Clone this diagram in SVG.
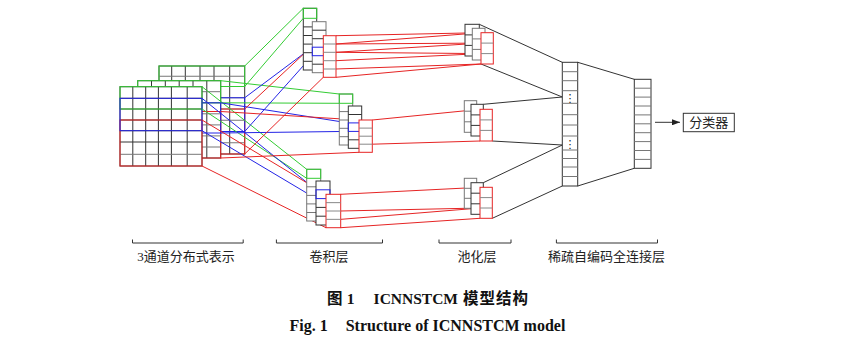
<svg xmlns="http://www.w3.org/2000/svg" width="848" height="342" viewBox="0 0 848 342">
<style>
.g{stroke:#33cc33;fill:none;stroke-width:1}
.b{stroke:#2424e6;fill:none;stroke-width:1}
.r{stroke:#e62424;fill:none;stroke-width:1}
.k{stroke:#333;fill:none;stroke-width:1}
.gr{stroke:#777;fill:none;stroke-width:1}
.box{fill:#fff;stroke:#333;stroke-width:1}
.boxg{fill:#fff;stroke:#777;stroke-width:1}
.boxr{fill:#fff;stroke:#e62424;stroke-width:1}
.dv{stroke:#888;fill:none;stroke-width:1}
.lbl{font-family:"Liberation Serif","Noto Sans CJK SC",serif;font-size:13px;fill:#222}
.cap{font-family:"Liberation Serif","Noto Sans CJK SC",serif;font-size:15.5px;font-weight:bold;fill:#111}
.cap2{font-family:"Liberation Serif","Noto Sans CJK SC",serif;font-size:16px;font-weight:bold;fill:#111}
</style>
<defs>
<marker id="arr" markerWidth="8" markerHeight="6" refX="8" refY="3" orient="auto" markerUnits="userSpaceOnUse">
<path d="M0,0 L8,3 L0,6 z" fill="#222"/>
</marker>
</defs>

<g id="input-back">
<rect class="box" x="159" y="66" width="85.7" height="88"/>
<path class="k" d="M171.7 66V154M185.3 66V154M200 66V154M214 66V154M229.7 66V154"/>
<path class="gr" d="M159 76.25H244.7M159 86.5H244.7M159 97.75H244.7M159 109H244.7M159 120.25H244.7M159 131.5H244.7M159 142.75H244.7"/>
<rect class="g" x="159" y="66" width="85.7" height="20.5"/>
<rect class="r" x="159" y="109" width="85.7" height="45"/>
<rect class="b" x="159" y="97.75" width="85.7" height="33.75"/>
</g>
<g id="input-middle">
<rect class="box" x="137.7" y="80.7" width="83" height="77.3"/>
<path class="k" d="M151.5 80.7V158M165.3 80.7V158M179.2 80.7V158M193 80.7V158M206.8 80.7V158"/>
<path class="gr" d="M137.7 91.7H220.7M137.7 102.8H220.7M137.7 113.8H220.7M137.7 124.9H220.7M137.7 135.9H220.7M137.7 147H220.7"/>
<rect class="g" x="137.7" y="80.7" width="83" height="22.1"/>
<rect class="r" x="137.7" y="111.5" width="83" height="46.5"/>
<rect class="b" x="137.7" y="102.8" width="83" height="30.2"/>
</g>
<g id="input-front">
<rect class="box" x="120" y="86.7" width="82" height="79.3"/>
<path class="k" d="M132.8 86.7V166M145.7 86.7V166M158.4 86.7V166M171.4 86.7V166M187.2 86.7V166"/>
<path class="k" d="M120 98.3H202M120 109H202M120 120H202M120 130.7H202M120 142H202"/>
<path class="gr" d="M120 154.3H202"/>
<rect class="g" x="120" y="86.7" width="82" height="22.3"/>
<rect class="r" x="120" y="120" width="82" height="46"/>
<rect class="b" x="120" y="98.3" width="82" height="32.4"/>
</g>

<g id="connectors">
<path class="g" d="M244.7 66L303.3 8.3M244.7 86.5L303.3 18.3M220.7 80.7L339.3 94M220.7 102.8L339.3 103.3M202 86.7L306.7 169.3M202 109L306.7 178.3"/>
<path class="b" d="M244.7 97.75L312.3 47.2M244.7 131.5L312.3 55.7M220.7 102.8L348.3 122.9M220.7 133L348.3 131.4M202 98.3L316 189.8M202 130.7L316 198.6"/>
<path class="r" d="M244.7 109L323.3 35.7M244.7 154L323.3 77.3M220.7 111.5L359 120M220.7 158L359 152.3M202 120L326 194.3M202 166L326 227.7"/>
<path class="r" d="M336 35.7L481 32.7M336 44L481 32.7M336 44L481 43.1M336 52.3L481 43.1M336 52.3L481 53.6M336 60.7L481 53.6M336 69L481 64M336 77.3L481 64"/>
<path class="r" d="M372.3 120L480 109.3M372.3 144.2L480 141"/>
<path class="r" d="M340.7 194.3L480 187.3M340.7 211L480 208M340.7 219.35L480 208M340.7 227.7L480 218.3"/>
<path class="k" d="M479.3 24.3L562.3 62.3M481 64L562.3 97M483.3 104.3L562.3 97M492.3 141L562.3 145M483.3 182.7L562.3 145M492.3 218.3L562.3 186"/>
<path class="k" d="M577.7 62.3L634.3 79.3M577.7 186L634.3 168.3"/>
<path class="k" d="M655 122.3H680" marker-end="url(#arr)"/>
</g>

<g id="conv-top">
<rect class="box" x="303.3" y="8.3" width="13.4" height="61.7"/>
<path class="k" d="M303.3 26.9h13.4M303.3 35.5h13.4M303.3 44.1h13.4M303.3 52.7h13.4M303.3 61.3h13.4"/>
<rect class="g" x="303.3" y="8.3" width="13.4" height="10"/>
<rect class="boxg" x="312.3" y="21.7" width="13.7" height="51"/>
<path class="k" d="M312.3 30.2h13.7M312.3 38.7h13.7M312.3 64.2h13.7"/>
<rect class="b" x="312.3" y="47.2" width="13.7" height="8.5"/>
<rect class="boxr" x="323.3" y="35.7" width="12.7" height="41.6"/>
<path class="dv" d="M323.3 44h12.7M323.3 52.3h12.7M323.3 60.7h12.7M323.3 69h12.7"/>
</g>
<g id="conv-middle">
<rect class="boxg" x="339.3" y="94" width="13.4" height="51"/>
<path class="gr" d="M339.3 111.6h13.4M339.3 120h13.4M339.3 128.3h13.4M339.3 136.7h13.4"/>
<rect class="g" x="339.3" y="94" width="13.4" height="9.3"/>
<rect class="box" x="348.3" y="106" width="13.4" height="42.3"/>
<path class="k" d="M348.3 114.5h13.4M348.3 139.8h13.4"/>
<rect class="b" x="348.3" y="122.9" width="13.4" height="8.5"/>
<rect class="boxr" x="359" y="120" width="13.3" height="32.3"/>
<path class="dv" d="M359 128.1h13.3M359 136.2h13.3M359 144.2h13.3"/>
</g>
<g id="conv-bottom">
<rect class="boxg" x="306.7" y="169.3" width="14" height="51.7"/>
<path class="gr" d="M306.7 186.8h14M306.7 195.4h14M306.7 203.9h14M306.7 212.5h14"/>
<rect class="g" x="306.7" y="169.3" width="14" height="9"/>
<rect class="box" x="316" y="181" width="14" height="44"/>
<path class="k" d="M316 207.4h14M316 216.2h14"/>
<rect class="b" x="316" y="189.8" width="14" height="8.8"/>
<rect class="boxr" x="326" y="194.3" width="14.7" height="33.4"/>
<path class="dv" d="M326 202.65h14.7M326 211h14.7M326 219.35h14.7"/>
</g>

<g id="pool-top">
<rect class="box" x="465" y="24.3" width="14.3" height="31.7"/>
<path class="k" d="M465 34.9h14.3M465 45.4h14.3"/>
<rect class="boxg" x="472.3" y="28.3" width="12.7" height="31.7"/>
<path class="gr" d="M472.3 38.9h12.7M472.3 49.4h12.7"/>
<rect class="boxr" x="481" y="32.7" width="12.3" height="31.3"/>
<path class="dv" d="M481 43.1h12.3M481 53.6h12.3"/>
</g>
<g id="pool-middle">
<rect class="boxg" x="464.3" y="100.7" width="12.4" height="31.6"/>
<path class="gr" d="M464.3 111.2h12.4M464.3 121.8h12.4"/>
<rect class="box" x="471" y="104.3" width="12.3" height="31.7"/>
<path class="k" d="M471 114.9h12.3M471 125.4h12.3"/>
<rect class="boxr" x="480" y="109.3" width="12.3" height="31.7"/>
<path class="dv" d="M480 119.9h12.3M480 130.4h12.3"/>
</g>
<g id="pool-bottom">
<rect class="boxg" x="464.3" y="178.3" width="12.4" height="30"/>
<path class="gr" d="M464.3 188.3h12.4M464.3 198.3h12.4"/>
<rect class="box" x="471" y="182.7" width="12.3" height="31.6"/>
<path class="k" d="M471 193.2h12.3M471 203.8h12.3"/>
<rect class="boxr" x="480" y="187.3" width="12.3" height="31"/>
<path class="dv" d="M480 197.6h12.3M480 208h12.3"/>
</g>

<g id="sparse-ae">
<rect class="box" x="562.3" y="62.3" width="15.4" height="123.7"/>
<path class="gr" d="M562.3 71.7h15.4M562.3 80.7h15.4M562.3 90.7h15.4M562.3 103.3h15.4M562.3 114.7h15.4M562.3 125h15.4M562.3 136h15.4M562.3 150h15.4M562.3 158.5h15.4M562.3 167h15.4M562.3 176.5h15.4"/>
<text x="570" y="102" font-family="DejaVu Sans, sans-serif" font-size="11" text-anchor="middle" fill="#222">⋮</text>
<text x="570" y="148" font-family="DejaVu Sans, sans-serif" font-size="11" text-anchor="middle" fill="#222">⋮</text>
</g>
<g id="fc">
<rect class="box" x="634.3" y="79.3" width="16.7" height="89"/>
<path class="gr" d="M634.3 88.2h16.7M634.3 97.1h16.7M634.3 106h16.7M634.3 114.9h16.7M634.3 123.8h16.7M634.3 132.7h16.7M634.3 141.6h16.7M634.3 150.5h16.7M634.3 159.4h16.7"/>
</g>
<g id="classifier">
<rect class="box" x="683.3" y="113.3" width="51" height="18.4"/>
<text class="lbl" x="708.8" y="127.2" text-anchor="middle">分类器</text>
</g>

<g id="brackets">
<path class="k" d="M132.5 239.5V243H243.2V239.5M276.4 239.5V243H382.5V239.5M439 239.5V243H511V239.5M556.4 239.5V243H657.5V239.5"/>
<text class="lbl" x="186" y="261" text-anchor="middle">3通道分布式表示</text>
<text class="lbl" x="329" y="261" text-anchor="middle">卷积层</text>
<text class="lbl" x="477" y="261" text-anchor="middle">池化层</text>
<text class="lbl" x="606.6" y="261" text-anchor="middle">稀疏自编码全连接层</text>
</g>

<g id="caption">
<text class="cap" x="327" y="304">图</text>
<text class="cap" x="346.8" y="304">1</text>
<text class="cap" x="373.6" y="304">ICNNSTCM</text>
<text class="cap" x="462.9" y="304" letter-spacing="1">模型结构</text>
<text class="cap2" x="289.6" y="330.5">Fig. 1</text>
<text class="cap2" x="345.7" y="330.5">Structure of ICNNSTCM model</text>
</g>
</svg>
